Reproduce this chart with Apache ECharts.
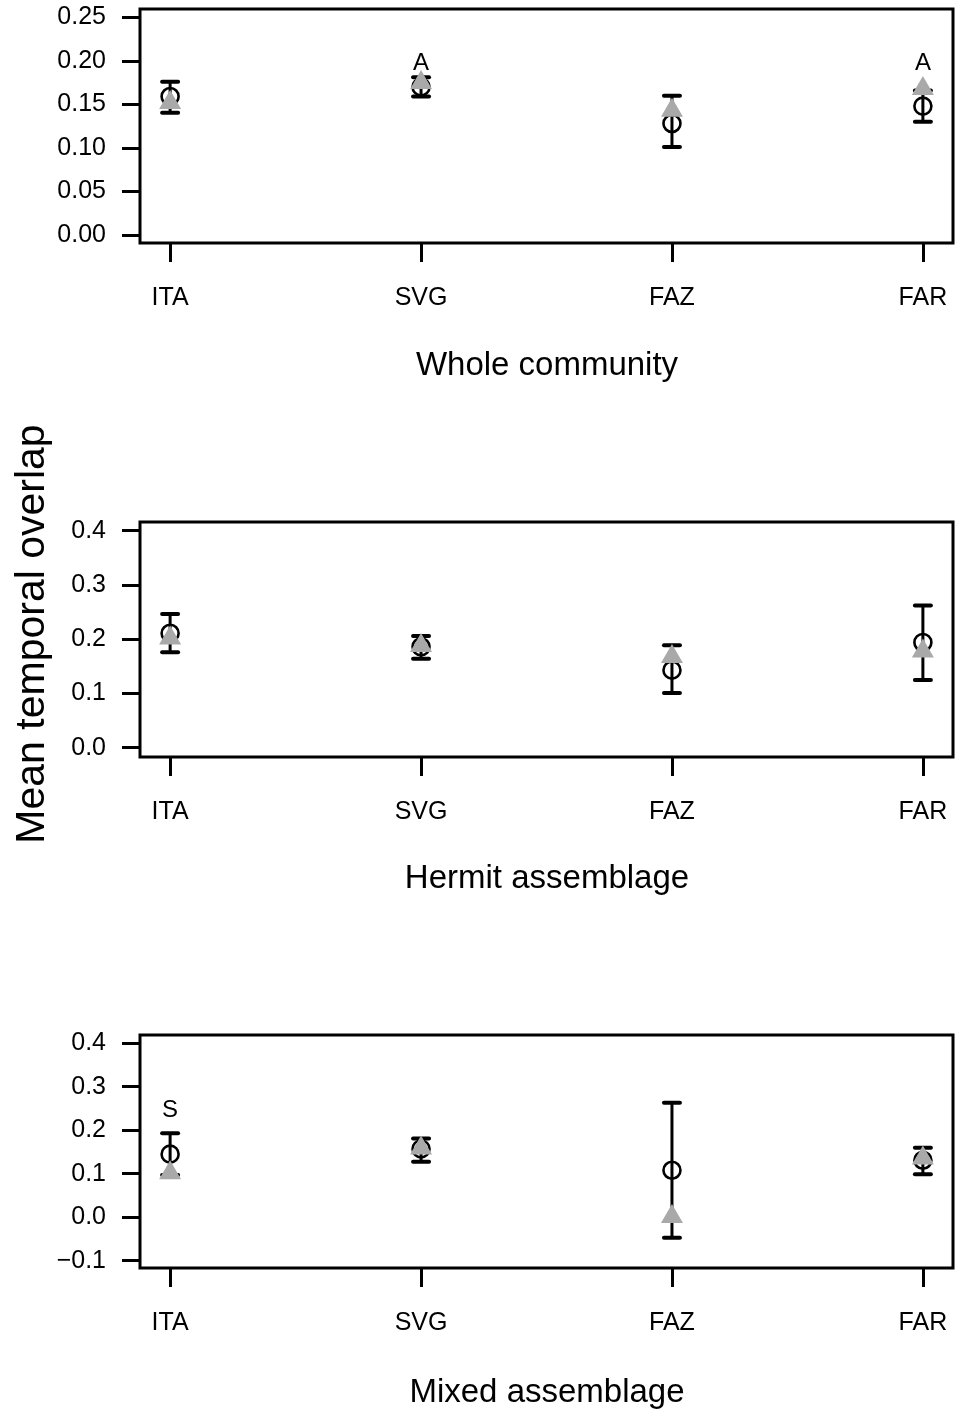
<!DOCTYPE html>
<html>
<head>
<meta charset="utf-8">
<script src="https://cdn.jsdelivr.net/npm/echarts@6/dist/echarts.min.js"></script>
<style>
html,body{margin:0;padding:0;background:#fff;}
#chart{width:955px;height:1410px;}
</style>
</head>
<body>
<div id="chart"></div>
<script>
// ---- data ----
const categories = ['ITA', 'SVG', 'FAZ', 'FAR'];
const panelTitles = ['Whole community', 'Hermit assemblage', 'Mixed assemblage'];
const yTitle = 'Mean temporal overlap';

// Whole community
const wholeMean  = [0.159, 0.170, 0.128, 0.148];
const wholeLower = [0.1405, 0.159, 0.101, 0.130];
const wholeUpper = [0.176, 0.181, 0.160, 0.166];
const wholeTri   = [0.152, 0.175, 0.143, 0.168];
const wholeTicks = [0, 0.05, 0.10, 0.15, 0.20, 0.25];
const wholeNotes = [[2, 0.1975, 'A'], [4, 0.1975, 'A']];

// Hermit assemblage
const hermitMean  = [0.211, 0.186, 0.143, 0.194];
const hermitLower = [0.176, 0.164, 0.101, 0.125];
const hermitUpper = [0.2465, 0.206, 0.189, 0.262];
const hermitTri   = [0.202, 0.188, 0.168, 0.178];
const hermitTicks = [0, 0.1, 0.2, 0.3, 0.4];
const hermitNotes = [];

// Mixed assemblage
const mixedMean  = [0.145, 0.157, 0.108, 0.131];
const mixedLower = [0.097, 0.1275, -0.047, 0.099];
const mixedUpper = [0.193, 0.181, 0.263, 0.160];
const mixedTri   = [0.102, 0.159, 0.001, 0.136];
const mixedTicks = [-0.1, 0, 0.1, 0.2, 0.3, 0.4];
const mixedNotes = [[1, 0.246, 'S']];

// ---- layout / style ----
const FONT = 'Liberation Sans, Arial, sans-serif';
const panels = [
  {mean: wholeMean, lower: wholeLower, upper: wholeUpper, tri: wholeTri, ticks: wholeTicks, notes: wholeNotes, dec: 2,
   top: 9, height: 234, min: -0.0092, max: 0.2595, titleY: 366},
  {mean: hermitMean, lower: hermitLower, upper: hermitUpper, tri: hermitTri, ticks: hermitTicks, notes: hermitNotes, dec: 1,
   top: 522, height: 235, min: -0.0171, max: 0.416, titleY: 879},
  {mean: mixedMean, lower: mixedLower, upper: mixedUpper, tri: mixedTri, ticks: mixedTicks, notes: mixedNotes, dec: 1,
   top: 1035, height: 233, min: -0.1168, max: 0.419, titleY: 1393}
];

const grids = [], xAxes = [], yAxes = [], series = [], graphics = [];
const TRI_W = 22, TRI_H = 19;

panels.forEach((p, i) => {
  grids.push({left: 140, right: 2, top: p.top, height: p.height, show: true,
    borderColor: '#000', borderWidth: 3, backgroundColor: 'transparent'});
  xAxes.push({type: 'value', gridIndex: i, min: 0.88, max: 4.12, position: 'bottom',
    axisLine: {show: false, onZero: false}, splitLine: {show: false},
    axisTick: {show: true, length: 19, inside: false, customValues: [1, 2, 3, 4],
      lineStyle: {color: '#000', width: 3}},
    axisLabel: {show: true, customValues: [1, 2, 3, 4], margin: 43,
      formatter: v => categories[Math.round(v) - 1] || '',
      color: '#000', fontFamily: FONT, fontSize: 25}});
  yAxes.push({type: 'value', gridIndex: i, min: p.min, max: p.max, position: 'left',
    axisLine: {show: false, onZero: false}, splitLine: {show: false},
    axisTick: {show: true, length: 18, customValues: p.ticks, lineStyle: {color: '#000', width: 3}},
    axisLabel: {show: true, customValues: p.ticks, margin: 34,
      formatter: v => v.toFixed(p.dec).replace('-', '\u2212'),
      color: '#000', fontFamily: FONT, fontSize: 25}});

  series.push({
    type: 'custom', xAxisIndex: i, yAxisIndex: i, z: 2, silent: true,
    data: categories.map((c, j) => [j + 1, p.lower[j], p.upper[j]]),
    renderItem: (params, api) => {
      const lo = api.coord([api.value(0), api.value(1)]);
      const hi = api.coord([api.value(0), api.value(2)]);
      const hw = 8;
      const st = {stroke: '#000', lineWidth: 3, lineCap: 'butt'};
      const cap = {stroke: '#000', lineWidth: 4, lineCap: 'round'};
      return {type: 'group', children: [
        {type: 'line', shape: {x1: lo[0], y1: lo[1], x2: hi[0], y2: hi[1]}, style: st},
        {type: 'line', shape: {x1: lo[0] - hw, y1: lo[1], x2: lo[0] + hw, y2: lo[1]}, style: cap},
        {type: 'line', shape: {x1: hi[0] - hw, y1: hi[1], x2: hi[0] + hw, y2: hi[1]}, style: cap}
      ]};
    }
  });
  series.push({
    type: 'scatter', xAxisIndex: i, yAxisIndex: i, z: 3, silent: true,
    data: categories.map((c, j) => [j + 1, p.mean[j]]),
    symbol: 'circle', symbolSize: 17,
    itemStyle: {color: 'rgba(0,0,0,0)', borderColor: '#000', borderWidth: 2.6, opacity: 1}
  });
  series.push({
    type: 'scatter', xAxisIndex: i, yAxisIndex: i, z: 4, silent: true,
    data: categories.map((c, j) => [j + 1, p.tri[j]]),
    symbol: 'triangle', symbolSize: [TRI_W, TRI_H], symbolOffset: [0, -TRI_H / 6],
    itemStyle: {color: '#a9a9a9', opacity: 1}
  });
  if (p.notes.length) {
    series.push({
      type: 'scatter', xAxisIndex: i, yAxisIndex: i, z: 5, silent: true,
      data: p.notes, symbolSize: 1, itemStyle: {color: 'rgba(0,0,0,0)'},
      label: {show: true, position: 'inside', formatter: d => d.data[2],
        color: '#000', fontFamily: FONT, fontSize: 24, opacity: 1, textBorderWidth: 0}
    });
  }
  graphics.push({type: 'text', x: 547, y: p.titleY,
    style: {text: panelTitles[i], fill: '#000', font: '33px ' + FONT,
      textAlign: 'center', textVerticalAlign: 'middle'}});
});

graphics.push({type: 'text', x: 33, y: 634, rotation: Math.PI / 2,
  style: {text: yTitle, fill: '#000', font: '41px ' + FONT,
    textAlign: 'center', textVerticalAlign: 'middle'}});

const chart = echarts.init(document.getElementById('chart'), null, {renderer: 'canvas'});
chart.setOption({
  animation: false,
  backgroundColor: '#fff',
  grid: grids, xAxis: xAxes, yAxis: yAxes, series: series, graphic: graphics
});
</script>
</body>
</html>
